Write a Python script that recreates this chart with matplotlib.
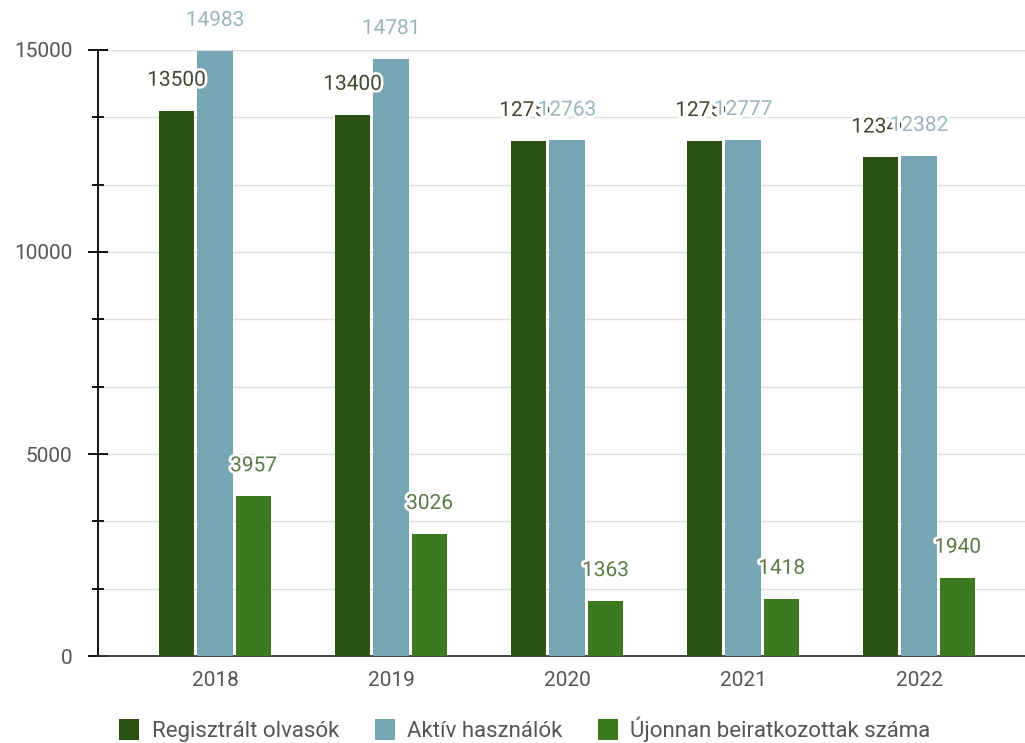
import matplotlib
matplotlib.use("Agg")
import matplotlib.pyplot as plt
import matplotlib.patheffects as pe
from matplotlib.ticker import MultipleLocator
import numpy as np

plt.rcParams['font.family'] = ['Roboto', 'DejaVu Sans']

years = ["2018", "2019", "2020", "2021", "2022"]
regisztralt = [13500, 13400, 12750, 12750, 12340]
aktiv = [14983, 14781, 12763, 12777, 12382]
ujonnan = [3957, 3026, 1363, 1418, 1940]

SERIES = [
    ("Regisztrált olvasók", regisztralt, "#2b5314", "#3e4a30"),
    ("Aktív használók", aktiv, "#76a5b3", "#9ab5c0"),
    ("Újonnan beiratkozottak száma", ujonnan, "#3b7a1e", "#5b7a45"),
]

BAR_W = 0.2
STEP = 0.219

fig = plt.figure(figsize=(10.25, 7.43), dpi=100)
ax = fig.add_axes([98 / 1025, 87 / 743, 1 - 98 / 1025, (656 - 50) / 743])

x = np.arange(len(years))
halo = [pe.withStroke(linewidth=4, foreground="white")]
for i, (name, vals, col, tcol) in enumerate(SERIES):
    pos = x + (i - 1) * STEP
    ax.bar(pos, vals, width=BAR_W, color=col, label=name, zorder=3)
    for px, v in zip(pos, vals):
        ax.annotate(str(v), (px, v), xytext=(0, 15), textcoords="offset points",
                    ha="center", va="bottom", fontsize=15, color=tcol,
                    path_effects=halo, annotation_clip=False, zorder=5 + i)

ax.set_xlim(-0.665, 4.602)
ax.set_ylim(0, 15000)
ax.set_xticks(x)
ax.set_xticklabels(years)
ax.yaxis.set_major_locator(MultipleLocator(5000))
ax.yaxis.set_minor_locator(MultipleLocator(5000 / 3))
ax.grid(axis="y", which="both", color="#dedede", linewidth=1, zorder=0)
ax.set_axisbelow(True)

ax.tick_params(axis="y", which="major", direction="inout", length=15, width=1.3,
               pad=11, labelsize=15, labelcolor="#555555")
ax.tick_params(axis="y", which="minor", direction="inout", length=8, width=1.3)
ax.tick_params(axis="x", length=0, pad=11, labelsize=15, labelcolor="#555555")

for s in ["top", "right"]:
    ax.spines[s].set_visible(False)
ax.spines["left"].set_linewidth(1.3)
ax.spines["bottom"].set_color("#333333")
ax.spines["bottom"].set_linewidth(1.3)

fig.legend(loc="center", bbox_to_anchor=(0.512, 0.018), ncol=3, frameon=False,
           fontsize=16, labelcolor="#555555", handlelength=0.9, handleheight=1.1,
           columnspacing=1.6, handletextpad=0.55, bbox_transform=fig.transFigure)

fig.savefig("out.png", dpi=100)
